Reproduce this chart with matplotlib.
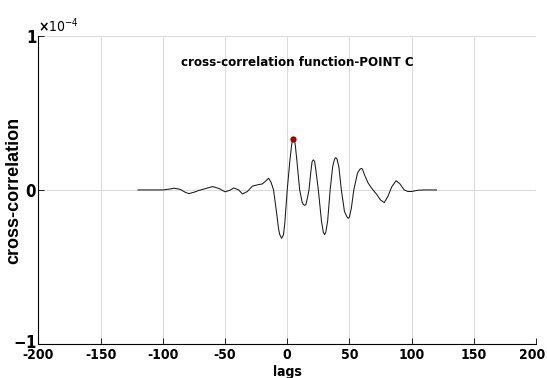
import numpy as np
import matplotlib
matplotlib.use('Agg')
import matplotlib.pyplot as plt
import matplotlib.transforms as mtransforms
from matplotlib.font_manager import FontProperties
from matplotlib.ticker import ScalarFormatter

# values, cross-correlation in units of 1e-4
lags = [-120, -100, -95, -91, -86, -82, -79, -75, -71, -66, -60, -55, -50, -46,
        -43, -39, -36, -32, -28, -24, -20, -17, -15, -13, -11, -9, -7, -6, -4.5,
        -3, -2, 0, 2, 3.5, 4, 5, 6, 6.5, 8, 10, 12, 13, 14, 15, 16, 17.5, 19,
        20, 21, 22, 23, 25, 27.5, 29, 30, 31, 32.5, 34.5, 36.5, 38, 39, 40,
        41.5, 43.5, 46, 48, 49, 50, 51.5, 53.5, 56.5, 58.5, 59.5, 60.5, 62,
        65, 68, 72, 75, 78, 81, 84, 87.5, 90.5, 94, 97, 100, 105, 110, 120]
xcorr = [0.0, 0.0, 0.005, 0.011, 0.004, -0.015, -0.024, -0.015, -0.003, 0.008,
         0.022, 0.010, -0.012, -0.002, 0.013, 0.0, -0.026, -0.010, 0.025, 0.033,
         0.039, 0.060, 0.076, 0.05, 0.0, -0.12, -0.25, -0.29, -0.314,
         -0.29, -0.22, 0.0, 0.18, 0.29, 0.315, 0.33, 0.315, 0.29, 0.17, 0.0,
         -0.08, -0.095, -0.10, -0.095, -0.06, 0.0, 0.12,
         0.185, 0.195, 0.185, 0.13, 0.0, -0.2, -0.275, -0.29, -0.275, -0.2,
         0.0, 0.15, 0.2, 0.21, 0.2,
         0.15, 0.0, -0.14, -0.175, -0.184, -0.175, -0.12, 0.0, 0.11, 0.135,
         0.14, 0.135, 0.10,
         0.045, 0.01, -0.03, -0.065, -0.082, -0.04, 0.02, 0.06, 0.04, 0.0,
         -0.01, -0.01, -0.002, 0.0, 0.0]
peak_lag = 5
peak_val = 0.33

xticks = [-200, -150, -100, -50, 0, 50, 100, 150, 200]
yticks = [-1e-4, 0, 1e-4]

plt.rcParams['axes.unicode_minus'] = False
plt.rcParams['font.family'] = ['DejaVu Sans']
plt.rcParams['font.stretch'] = 'condensed'
plt.rcParams['font.weight'] = 'bold'

fig = plt.figure(figsize=(5.47, 3.78), dpi=100)
ax = fig.add_axes([0.0702, 0.09, 0.9098, 0.815])

y = np.array(xcorr) * 1e-4
ax.plot(lags, y, color='#1a1a1a', linewidth=0.75)
ax.plot([peak_lag], [peak_val * 1e-4], 'o', color='#a00000', markersize=3.5)

ax.set_xlim(-200, 200)
ax.set_ylim(-1e-4, 1e-4)
ax.set_xticks(xticks)
ax.set_yticks(yticks)

fmt = ScalarFormatter(useMathText=True)
fmt.set_powerlimits((0, 0))
ax.yaxis.set_major_formatter(fmt)
ax.yaxis.get_offset_text().set_fontsize(10)
ax.yaxis.get_offset_text().set_fontweight('normal')

ax.grid(True, color='#dcdcdc', linewidth=0.8)
ax.set_axisbelow(True)
ax.spines['top'].set_visible(False)
ax.spines['right'].set_visible(False)
ax.spines['left'].set_linewidth(0.8)
ax.spines['bottom'].set_linewidth(0.8)
ax.tick_params(direction='in', length=4, width=0.6, pad=1)
ax.tick_params(axis='x', labelsize=10, pad=3)
ax.tick_params(axis='y', labelsize=12)

# last x tick label sits at the picture's right edge, nudge it in a little
last = ax.get_xticklabels()[-1]
last.set_transform(last.get_transform() +
                   mtransforms.ScaledTranslation(-4 / 100, 0, fig.dpi_scale_trans))
# the -1 label crowds the -200 label, lift it slightly
low = ax.get_yticklabels()[0]
low.set_transform(low.get_transform() +
                  mtransforms.ScaledTranslation(0, 3 / 100, fig.dpi_scale_trans))

ax.text(8, 0.83e-4, 'cross-correlation function-POINT C', ha='center', va='center',
        fontsize=9.5, fontweight='bold')
ax.set_xlabel('lags', fontsize=10, fontweight='bold')
ax.xaxis.set_label_coords(0.5, -0.068)
ylab_font = FontProperties(family='Liberation Sans', weight='bold', size=13)
ax.set_ylabel('cross-correlation', fontproperties=ylab_font)
ax.yaxis.set_label_coords(-0.032, 0.5)

plt.savefig('out.png', dpi=100)
